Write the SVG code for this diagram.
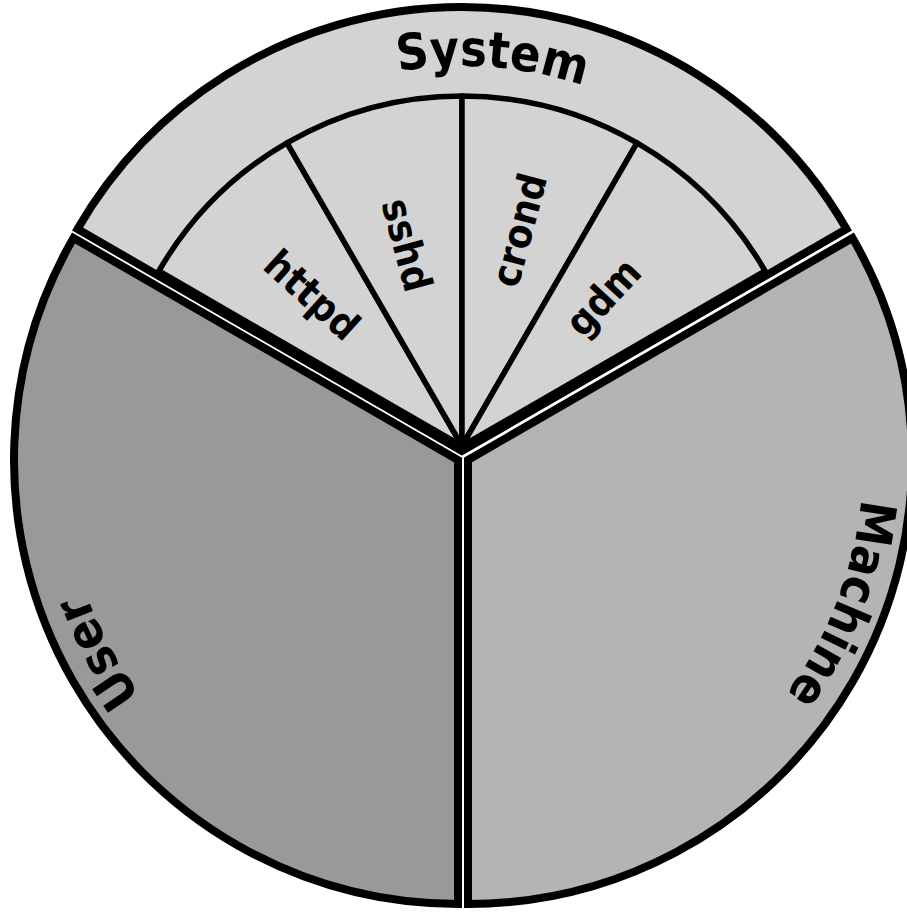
<svg xmlns="http://www.w3.org/2000/svg" width="907" height="913" viewBox="0 0 907 913">
<style>
.sector{stroke:#000;stroke-width:8;stroke-linejoin:miter}
.sub{fill:#d3d3d3;stroke:#000;stroke-width:5.5;stroke-linejoin:round}
.lbl{font-family:'DejaVu Sans Condensed','DejaVu Sans',sans-serif;font-weight:bold;font-stretch:condensed;fill:#000}
.big{font-size:50px}
.small{font-size:40px}
</style>
<defs>
<path id="sysArc" d="M128.6,258.5 A385,385 0 0 1 795.4,258.5"/>
<path id="userArc" d="M458,855 A395,395 0 0 1 115.9,262.5"/>
<path id="machArc" d="M810.1,262.5 A395,395 0 0 1 468,855"/>
</defs>
<rect width="907" height="913" fill="#fff"/>
<g id="user">
<path class="sector" fill="#999999" d="M458,460 L458,904 A444,444 0 0 1 73.5,238 Z"/>
<text class="lbl big"><textPath href="#userArc" startOffset="51.5%" text-anchor="middle">User</textPath></text>
</g>
<g id="machine">
<path class="sector" fill="#b4b4b4" d="M468,460 L852.5,238 A444,444 0 0 1 468,904 Z"/>
<text class="lbl big"><textPath href="#machArc" startOffset="42.5%" text-anchor="middle">Machine</textPath></text>
</g>
<g id="system">
<path class="sector" fill="#d3d3d3" d="M462,451 L77.5,229 A444,444 0 0 1 846.5,229 Z"/>
<text class="lbl big"><textPath href="#sysArc" startOffset="53.7%" text-anchor="middle">System</textPath></text>
</g>
<g id="httpd">
<path class="sub" d="M462,446 L158.9,271 A350,350 0 0 1 287,142.9 Z"/>
<text class="lbl small" text-anchor="middle" dominant-baseline="central" transform="translate(312,295) rotate(42)">httpd</text>
</g>
<g id="sshd">
<path class="sub" d="M462,446 L287,142.9 A350,350 0 0 1 462,96 Z"/>
<text class="lbl small" text-anchor="middle" dominant-baseline="central" transform="translate(407,245) rotate(75)">sshd</text>
</g>
<g id="crond">
<path class="sub" d="M462,446 L462,96 A350,350 0 0 1 637,142.9 Z"/>
<text class="lbl small" text-anchor="middle" dominant-baseline="central" transform="translate(519,230) rotate(-75)">crond</text>
</g>
<g id="gdm">
<path class="sub" d="M462,446 L637,142.9 A350,350 0 0 1 765.1,271 Z"/>
<text class="lbl small" text-anchor="middle" dominant-baseline="central" transform="translate(603,297) rotate(-47)">gdm</text>
</g>
<g id="connectors"></g>
</svg>
